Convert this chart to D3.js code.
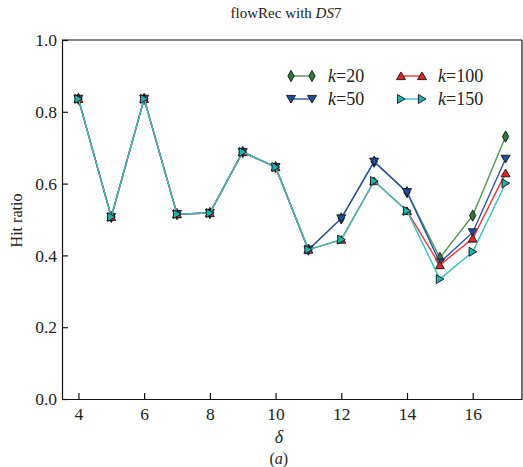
<!DOCTYPE html>
<html>
<head>
<meta charset="utf-8">
<script src="https://cdn.jsdelivr.net/npm/d3@7"></script>
<style>
  body { margin: 0; background: #fff; }
  text { font-family: "Liberation Serif", "DejaVu Serif", serif; fill: #222; }
</style>
</head>
<body>
<script>
// delta values along x
var deltas = [4, 5, 6, 7, 8, 9, 10, 11, 12, 13, 14, 15, 16, 17];

// hit ratio per k
var k20  = [0.836, 0.507, 0.836, 0.515, 0.518, 0.688, 0.646, 0.416, 0.503, 0.661, 0.576, 0.393, 0.511, 0.731];
var k50  = [0.836, 0.507, 0.836, 0.515, 0.518, 0.688, 0.646, 0.416, 0.503, 0.661, 0.576, 0.380, 0.464, 0.669];
var k100 = [0.836, 0.507, 0.836, 0.515, 0.518, 0.688, 0.646, 0.416, 0.444, 0.607, 0.524, 0.373, 0.447, 0.629];
var k150 = [0.836, 0.507, 0.836, 0.515, 0.518, 0.688, 0.646, 0.416, 0.444, 0.607, 0.524, 0.334, 0.410, 0.601];

var xTicks = [4, 6, 8, 10, 12, 14, 16];
var yTicks = [0, 0.2, 0.4, 0.6, 0.8, 1.0];

var series = [
  {k: "20",  values: k20,  line: "#4f9a55", fill: "#2f7a38", sym: "diamond"},
  {k: "50",  values: k50,  line: "#2a4fa8", fill: "#1f4f9e", sym: "down"},
  {k: "100", values: k100, line: "#ee3434", fill: "#e02626", sym: "up"},
  {k: "150", values: k150, line: "#36c0c0", fill: "#22b0b0", sym: "right"}
];

var W = 523, H = 467;
var margin = {top: 40, right: 1, bottom: 68, left: 62};
var w = W - margin.left - margin.right,
    h = H - margin.top - margin.bottom;

var svg = d3.select("body").append("svg")
    .attr("width", W)
    .attr("height", H);
var g = svg.append("g")
    .attr("transform", "translate(" + margin.left + "," + margin.top + ")");

var x = d3.scaleLinear().domain([3.5, 17.5]).range([0, w]);
var y = d3.scaleLinear().domain([0, 1]).range([h, 0]);

// axes, ticks point inward
var xAxis = d3.axisBottom(x).tickValues(xTicks).tickSizeInner(-6).tickSizeOuter(0).tickPadding(9)
    .tickFormat(d3.format("d"));
var yAxis = d3.axisLeft(y).tickValues(yTicks).tickSizeInner(-6).tickSizeOuter(0).tickPadding(5)
    .tickFormat(d3.format(".1f"));

g.append("g").attr("transform", "translate(0," + h + ")").call(xAxis);
g.append("g").call(yAxis);
g.append("line").attr("x1", 0).attr("x2", w).attr("y1", 0).attr("y2", 0);
g.append("line").attr("x1", w).attr("x2", w).attr("y1", 0).attr("y2", h);
g.selectAll("line").attr("stroke", "#111").attr("stroke-width", 1.2);
g.selectAll(".domain").attr("stroke", "#111").attr("stroke-width", 1.2);
g.selectAll(".tick text").style("font-size", "17.5px").style("font-family", "Liberation Serif, serif").attr("fill", "#222");

// marker shapes
function markerPath(sym, s) {
  if (sym === "diamond") return "M0," + (-s * 1.25) + "L" + (s * 0.7) + ",0L0," + (s * 1.25) + "L" + (-s * 0.7) + ",0Z";
  if (sym === "down") return "M" + (-s) + "," + (-s * 0.8) + "L" + s + "," + (-s * 0.8) + "L0," + (s * 0.9) + "Z";
  if (sym === "up") return "M" + (-s) + "," + (s * 0.8) + "L" + s + "," + (s * 0.8) + "L0," + (-s * 0.9) + "Z";
  return "M" + (-s * 0.8) + "," + (-s) + "L" + (-s * 0.8) + "," + s + "L" + (s * 0.9) + ",0Z";
}

var line = d3.line()
    .x(function (d, i) { return x(deltas[i]); })
    .y(function (d) { return y(d); });

series.forEach(function (s) {
  g.append("path")
      .datum(s.values)
      .attr("fill", "none")
      .attr("stroke", s.line)
      .attr("stroke-width", 1.4)
      .attr("d", line);
  g.selectAll(null)
      .data(s.values)
      .enter()
    .append("path")
      .attr("transform", function (d, i) { return "translate(" + x(deltas[i]) + "," + y(d) + ")"; })
      .attr("d", markerPath(s.sym, 4.5))
      .attr("fill", s.fill)
      .attr("stroke", "#111")
      .attr("stroke-width", 0.9);
});

// legend, two columns by two rows
var legend = g.append("g");
series.forEach(function (s, i) {
  var col = (i === 0 || i === 1) ? 0 : 1;
  var row = (i === 0 || i === 2) ? 0 : 1;
  var lx = col === 0 ? 229 : 339;
  var ly = row === 0 ? 36 : 59;
  var item = legend.append("g").attr("transform", "translate(" + lx + "," + ly + ")");
  item.append("line").attr("x1", 0).attr("x2", 21).attr("y1", 0).attr("y2", 0)
      .attr("stroke", s.line).attr("stroke-width", 1.4);
  [0, 21].forEach(function (mx) {
    item.append("path").attr("transform", "translate(" + mx + ",0)")
        .attr("d", markerPath(s.sym, 4.5))
        .attr("fill", s.fill).attr("stroke", "#111").attr("stroke-width", 0.9);
  });
  var t = item.append("text").attr("x", 37).attr("y", 6).style("font-size", "18px");
  t.append("tspan").style("font-style", "italic").text("k");
  t.append("tspan").text("=" + s.k);
});

// title and labels
var title = svg.append("text")
    .attr("x", margin.left + w / 2 - 6)
    .attr("y", 18)
    .attr("text-anchor", "middle")
    .style("font-size", "15px");
title.append("tspan").text("flowRec with ");
title.append("tspan").style("font-style", "italic").text("DS");
title.append("tspan").text("7");

svg.append("text")
    .attr("transform", "translate(22," + (margin.top + h / 2 + 1) + ") rotate(-90)")
    .attr("text-anchor", "middle")
    .style("font-size", "16px")
    .text("Hit ratio");

svg.append("text")
    .attr("x", margin.left + x(10.1))
    .attr("y", 443)
    .attr("text-anchor", "middle")
    .style("font-size", "18px")
    .style("font-style", "italic")
    .text("δ");

var sub = svg.append("text")
    .attr("x", margin.left + x(10.1))
    .attr("y", 464)
    .attr("text-anchor", "middle")
    .style("font-size", "16px");
sub.append("tspan").text("(");
sub.append("tspan").style("font-style", "italic").text("a");
sub.append("tspan").text(")");
</script>
</body>
</html>
